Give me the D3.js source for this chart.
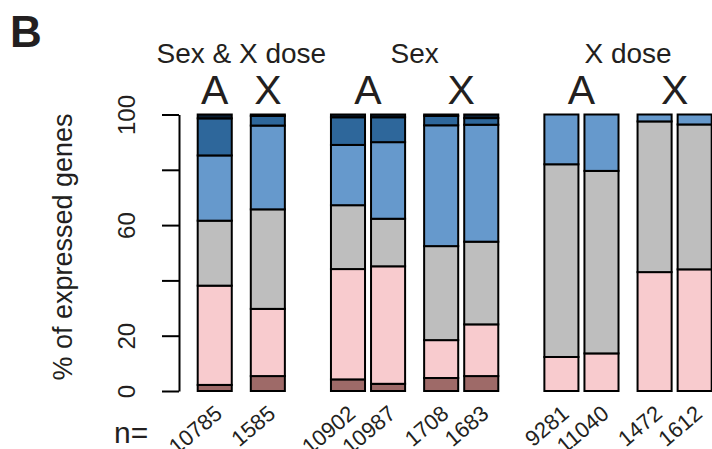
<!DOCTYPE html>
<html>
<head>
<meta charset="utf-8">
<script src="https://cdn.jsdelivr.net/npm/d3@7"></script>
<style>
  body { margin: 0; background: #fff; }
  text { font-family: "Liberation Sans", Arial, sans-serif; fill: #231f20; }
</style>
</head>
<body>
<div id="plot"></div>
<script>
// Bar layout: group title, chromosome type, gene count
var groups = ["Sex & X dose", "Sex & X dose", "Sex", "Sex", "Sex", "Sex", "X dose", "X dose", "X dose", "X dose"];
var chroms = ["A", "X", "A", "A", "X", "X", "A", "A", "X", "X"];
var counts = ["10785", "1585", "10902", "10987", "1708", "1683", "9281", "11040", "1472", "1612"];

// Percent of expressed genes per category (bottom to top)
var brown     = [2.2, 5.4, 4.2, 2.6, 4.7, 5.4, 0, 0, 0, 0];
var pink      = [35.9, 24.3, 39.9, 42.5, 13.7, 18.7, 12.3, 13.6, 43.0, 44.0];
var grey      = [23.5, 36.0, 23.1, 17.2, 34.0, 29.9, 69.7, 66.0, 54.5, 52.4];
var lightBlue = [23.6, 30.3, 21.8, 27.7, 43.7, 42.3, 18.0, 20.4, 2.5, 3.6];
var darkBlue  = [13.4, 3.5, 10.0, 9.0, 3.4, 2.4, 0, 0, 0, 0];
var topDark   = [1.4, 0.5, 1.0, 1.0, 0.5, 1.3, 0, 0, 0, 0];

var yTicks = [0, 20, 40, 60, 80, 100];
var yTickLabels = ["0", "20", "", "60", "", "100"];

var series = [brown, pink, grey, lightBlue, darkBlue, topDark];
var colors = ["#9e6a68", "#f8cbce", "#bebebe", "#6699cc", "#2e679b", "#0a1e33"];

var W = 712, H = 449;
var svg = d3.select("#plot").append("svg")
    .attr("width", W)
    .attr("height", H);

// Work out bar positions (in px units before scaling) from the grouping
var barW = 34;
var lefts = [];
var pos = 0;
for (var i = 0; i < counts.length; i++) {
    if (i > 0) {
        if (groups[i] !== groups[i - 1]) { pos += 46; }
        else if (chroms[i] !== chroms[i - 1]) { pos += 19; }
        else { pos += 6; }
    }
    lefts.push(pos);
    pos += barW;
}
var x = d3.scaleLinear().domain([0, pos]).range([197.7, 711.7]);
var y = d3.scaleLinear().domain([0, 100]).range([391, 114.5]);

// Stack segments
var segs = [];
for (var b = 0; b < counts.length; b++) {
    var base = 0;
    for (var s = 0; s < series.length; s++) {
        var v = series[s][b];
        if (v > 0) {
            segs.push({ bar: b, y0: base, y1: base + v, color: colors[s] });
        }
        base += v;
    }
}

svg.append("g")
    .selectAll("rect")
    .data(segs)
    .enter()
    .append("rect")
    .attr("x", d => x(lefts[d.bar]))
    .attr("width", d => x(lefts[d.bar] + barW) - x(lefts[d.bar]))
    .attr("y", d => y(d.y1))
    .attr("height", d => y(d.y0) - y(d.y1))
    .attr("fill", d => d.color)
    .attr("stroke", "#000")
    .attr("stroke-width", 2);

// Y axis
var yAxis = svg.append("g")
    .attr("transform", "translate(179,0)")
    .call(d3.axisLeft(y).tickValues(yTicks).tickSize(17).tickSizeOuter(0)
        .tickFormat((d, i) => yTickLabels[i]));
yAxis.select(".domain").attr("stroke", "#000").attr("stroke-width", 2);
yAxis.selectAll(".tick line").attr("stroke", "#000").attr("stroke-width", 2);
yAxis.selectAll(".tick text")
    .attr("transform", "rotate(-90)")
    .attr("x", 0)
    .attr("y", -44)
    .attr("dy", 0)
    .attr("text-anchor", "middle")
    .style("font-size", "24px")
    .attr("fill", "#231f20")
    .attr("font-family", "Liberation Sans, Arial, sans-serif");

// Y label
svg.append("text")
    .attr("transform", "translate(72,247) rotate(-90)")
    .attr("text-anchor", "middle")
    .style("font-size", "27px")
    .text("% of expressed genes");

// Panel letter
svg.append("text")
    .attr("x", 10)
    .attr("y", 47)
    .style("font-size", "44px")
    .style("font-weight", "bold")
    .text("B");

// Group titles, centred over their bars
var groupNames = Array.from(new Set(groups));
groupNames.forEach(function(g) {
    var idx = d3.range(counts.length).filter(i => groups[i] === g);
    var cx = (x(lefts[idx[0]]) + x(lefts[idx[idx.length - 1]] + barW)) / 2;
    svg.append("text")
        .attr("x", cx)
        .attr("y", 63)
        .attr("text-anchor", "middle")
        .style("font-size", "28px")
        .text(g);
});

// A / X labels over each run of bars
var runs = [];
for (var r = 0; r < counts.length; r++) {
    if (r === 0 || groups[r] !== groups[r - 1] || chroms[r] !== chroms[r - 1]) {
        runs.push({ chrom: chroms[r], first: r, last: r });
    } else {
        runs[runs.length - 1].last = r;
    }
}
svg.append("g")
    .selectAll("text")
    .data(runs)
    .enter()
    .append("text")
    .attr("x", d => (x(lefts[d.first]) + x(lefts[d.last] + barW)) / 2)
    .attr("y", 104)
    .attr("text-anchor", "middle")
    .style("font-size", "41px")
    .text(d => d.chrom);

// n= labels
svg.append("text")
    .attr("x", 114)
    .attr("y", 443)
    .style("font-size", "30px")
    .text("n=");

svg.append("g")
    .selectAll("text")
    .data(counts)
    .enter()
    .append("text")
    .attr("transform", (d, i) => "translate(" + (x(lefts[i] + barW / 2) + 9) + ",416) rotate(-40)")
    .attr("text-anchor", "end")
    .style("font-size", "22px")
    .text(d => d);
</script>
</body>
</html>
